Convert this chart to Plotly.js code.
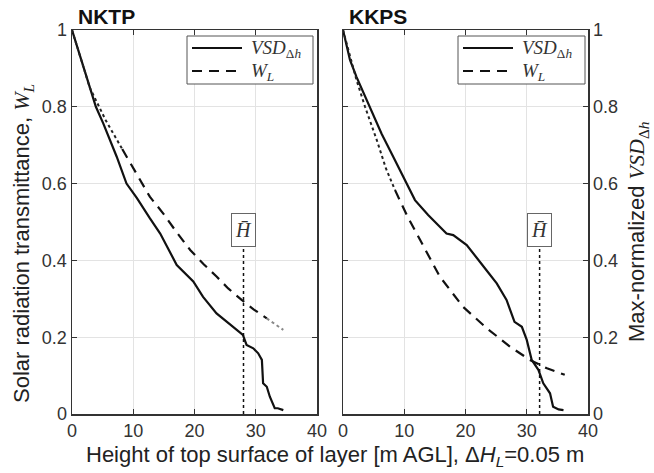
<!DOCTYPE html>
<html>
<head>
<meta charset="utf-8">
<script src="https://cdn.plot.ly/plotly-3.0.1.min.js"></script>
<style>html,body{margin:0;padding:0;background:#fff;}#chart{width:654px;height:473px;}</style>
</head>
<body>
<div id="chart"></div>
<script>
// ---- NKTP panel data ----
var nktpH   = [0, 1.85, 3.9, 5.1, 7.3, 8.9, 10.6, 12.7, 14.4, 17.1, 19.8, 21.4, 23.6, 26.3, 27.9, 28.5, 29.6, 30.4, 31.0, 31.2, 31.8, 32.3, 33.1, 33.6, 34.5];
var nktpVSD = [1, 0.905, 0.8, 0.757, 0.67, 0.6, 0.562, 0.51, 0.47, 0.388, 0.345, 0.305, 0.262, 0.227, 0.206, 0.18, 0.171, 0.158, 0.141, 0.08, 0.071, 0.045, 0.015, 0.015, 0.01];
var nktpWH  = [0, 1.6, 2.9, 5.5, 8.2, 10, 12.7, 15, 17, 19.3, 21.5, 23.6, 25.5, 27.7, 29.7, 31.8, 33.2, 34.5];
var nktpW   = [1, 0.92, 0.85, 0.765, 0.69, 0.64, 0.566, 0.52, 0.475, 0.427, 0.39, 0.358, 0.327, 0.297, 0.272, 0.249, 0.233, 0.219];
// ---- KKPS panel data ----
var kkpsH   = [0, 1.14, 2.2, 4.4, 6.3, 8.2, 10.4, 11.75, 13.9, 16.9, 18.0, 20.2, 23.2, 25.1, 26.7, 28.0, 29.2, 30.0, 30.8, 31.9, 32.7, 33.8, 34.3, 35.2, 36.0];
var kkpsVSD = [1, 0.922, 0.878, 0.8, 0.73, 0.67, 0.6, 0.557, 0.518, 0.47, 0.466, 0.44, 0.379, 0.34, 0.297, 0.24, 0.227, 0.193, 0.141, 0.115, 0.08, 0.054, 0.019, 0.012, 0.01];
var kkpsWH  = [0, 2.2, 3.6, 5.5, 7, 8.5, 10.5, 12.6, 15.8, 19.6, 23.5, 27.3, 30.5, 33.3, 36.2];
var kkpsW   = [1, 0.87, 0.80, 0.714, 0.64, 0.583, 0.515, 0.453, 0.358, 0.279, 0.223, 0.175, 0.141, 0.119, 0.102];
// mean canopy height markers
var panelNames = ['NKTP', 'KKPS'];
var meanH = [28.0, 32.1];
var meanHTop = [0.436, 0.436];
var xTicks = [0, 10, 20, 30, 40];
var yTicks = [0, 0.2, 0.4, 0.6, 0.8, 1];
var yTickText = ['0', '0.2', '0.4', '0.6', '0.8', '1'];

var M = {l: 72, r: 66, t: 30, b: 59}, W = 654, Hh = 473;
var PW = W - M.l - M.r, PH = Hh - M.t - M.b;
function px(x) { return (x - M.l) / PW; }
function py(y) { return (Hh - M.b - y) / PH; }

function seg(xs, ys, lo, hi) {
  var ox = [], oy = [];
  for (var i = 0; i < xs.length; i++) { if (xs[i] >= lo && xs[i] <= hi) { ox.push(xs[i]); oy.push(ys[i]); } }
  return {x: ox, y: oy};
}

var DASH = '10px,7px';
var traces = [];
function panel(H, V, WH, Wv, dotEnd, endStart, xa, ya) {
  traces.push({x: H, y: V, xaxis: xa, yaxis: ya, mode: 'lines', showlegend: false,
    line: {color: '#111', width: 2.2}});
  var s1 = seg(WH, Wv, 0, dotEnd);
  traces.push({x: s1.x, y: s1.y, xaxis: xa, yaxis: ya, mode: 'lines', showlegend: false,
    line: {color: '#222', width: 2, dash: 'dot'}});
  var s2 = seg(WH, Wv, dotEnd, endStart);
  traces.push({x: s2.x, y: s2.y, xaxis: xa, yaxis: ya, mode: 'lines', showlegend: false,
    line: {color: '#111', width: 2.2, dash: DASH}});
  if (endStart < 100) {
    var s3 = seg(WH, Wv, endStart, 100);
    traces.push({x: s3.x, y: s3.y, xaxis: xa, yaxis: ya, mode: 'lines', showlegend: false,
      line: {color: '#888', width: 2, dash: 'dot'}});
  }
}
panel(nktpH, nktpVSD, nktpWH, nktpW, 8.2, 31.8, 'x', 'y');
panel(kkpsH, kkpsVSD, kkpsWH, kkpsW, 8.5, 1000, 'x2', 'y2');

[['x','y'],['x2','y2']].forEach(function(ax, i) {
  traces.push({x: [meanH[i], meanH[i]], y: [0, meanHTop[i]], xaxis: ax[0], yaxis: ax[1], mode: 'lines',
    showlegend: false, line: {color: '#111', width: 1.5, dash: 'dot'}});
});

var tickFont = {family: 'Liberation Sans, Arial, sans-serif', size: 18, color: '#333'};
function xax(domain) {
  return {domain: domain, range: [0, 40], tickvals: xTicks, ticks: 'inside', ticklen: 5, tickcolor: '#333',
    showline: true, mirror: 'ticks', linecolor: '#333', linewidth: 1.5, showgrid: true, gridcolor: '#e3e3e3',
    zeroline: false, tickfont: tickFont, fixedrange: true};
}
function yax(side, anchor) {
  return {domain: [0, 1], range: [0, 1], tickvals: yTicks, ticktext: yTickText, ticks: 'inside', ticklen: 5,
    tickcolor: '#333', showline: true, mirror: 'ticks', linecolor: '#333', linewidth: 1.5, showgrid: true,
    gridcolor: '#e3e3e3', zeroline: false, tickfont: tickFont, side: side, anchor: anchor, fixedrange: true};
}

var titleFont = {family: 'Liberation Sans, Arial, sans-serif', size: 22, color: '#222'};
var serifSpan = function(s) { return '<span style="font-family:Liberation Serif,serif">' + s + '</span>'; };
var vsdName = '<i>VSD</i><sub>Δ<i>h</i></sub>';
var wName = '<i>W</i><sub><i>L</i></sub>';
var annotations = [
  {text: '<b>' + panelNames[0] + '</b>', xref: 'paper', yref: 'paper', x: px(76), y: py(30), xanchor: 'left', yanchor: 'bottom',
    showarrow: false, font: {family: 'Liberation Sans, Arial, sans-serif', size: 21, color: '#111'}},
  {text: '<b>' + panelNames[1] + '</b>', xref: 'paper', yref: 'paper', x: px(347), y: py(30), xanchor: 'left', yanchor: 'bottom',
    showarrow: false, font: {family: 'Liberation Sans, Arial, sans-serif', size: 21, color: '#111'}},
  {text: 'Solar radiation transmittance, ' + serifSpan(wName), xref: 'paper', yref: 'paper',
    x: px(23), y: py(244), textangle: -90, showarrow: false, font: titleFont, xanchor: 'center', yanchor: 'middle'},
  {text: 'Max-normalized ' + serifSpan(vsdName), xref: 'paper', yref: 'paper',
    x: px(638), y: py(232), textangle: -90, showarrow: false, font: titleFont, xanchor: 'center', yanchor: 'middle'},
  {text: 'Height of top surface of layer [m AGL], Δ<i>H</i><sub><i>L</i></sub>=0.05 m', xref: 'paper', yref: 'paper',
    x: px(335), y: py(440), showarrow: false, font: titleFont, xanchor: 'center', yanchor: 'top'}
];
[['x','y'],['x2','y2']].forEach(function(ax, i) {
  annotations.push({text: '<i>H̄</i>', xref: ax[0], yref: ax[1], x: meanH[i], y: meanHTop[i], xanchor: 'center',
    yanchor: 'bottom', showarrow: false, bgcolor: '#fff', bordercolor: '#666', borderwidth: 1, borderpad: 3,
    width: 17, height: 26, font: {family: 'Liberation Serif, serif', size: 20, color: '#333'}});
});

// hand-drawn legends (box, line samples, labels)
var shapes = [];
var legFont = {family: 'Liberation Serif, serif', size: 19, color: '#333'};
[[187, 313], [458, 585]].forEach(function(b) {
  shapes.push({type: 'rect', xref: 'paper', yref: 'paper', x0: px(b[0]), x1: px(b[1]), y0: py(84), y1: py(36),
    line: {color: '#555', width: 1}, fillcolor: '#fff', layer: 'above'});
  shapes.push({type: 'line', xref: 'paper', yref: 'paper', x0: px(b[0] + 5), x1: px(b[0] + 55), y0: py(48), y1: py(48),
    line: {color: '#111', width: 2.2}, layer: 'above'});
  shapes.push({type: 'line', xref: 'paper', yref: 'paper', x0: px(b[0] + 5), x1: px(b[0] + 55), y0: py(71), y1: py(71),
    line: {color: '#111', width: 2.2, dash: DASH}, layer: 'above'});
  annotations.push({text: vsdName, xref: 'paper', yref: 'paper', x: px(b[0] + 62), y: py(49), xanchor: 'left', yanchor: 'middle',
    showarrow: false, font: legFont});
  annotations.push({text: wName, xref: 'paper', yref: 'paper', x: px(b[0] + 62), y: py(72), xanchor: 'left', yanchor: 'middle',
    showarrow: false, font: legFont});
});

var layout = {
  width: W, height: Hh, margin: M, paper_bgcolor: '#fff', plot_bgcolor: '#fff',
  showlegend: false,
  xaxis: xax([0, px(317)]), yaxis: yax('left', 'x'),
  xaxis2: xax([px(343), 1]), yaxis2: yax('right', 'x2'),
  shapes: shapes,
  annotations: annotations
};
Plotly.newPlot('chart', traces, layout, {displayModeBar: false, staticPlot: true});
</script>
</body>
</html>
